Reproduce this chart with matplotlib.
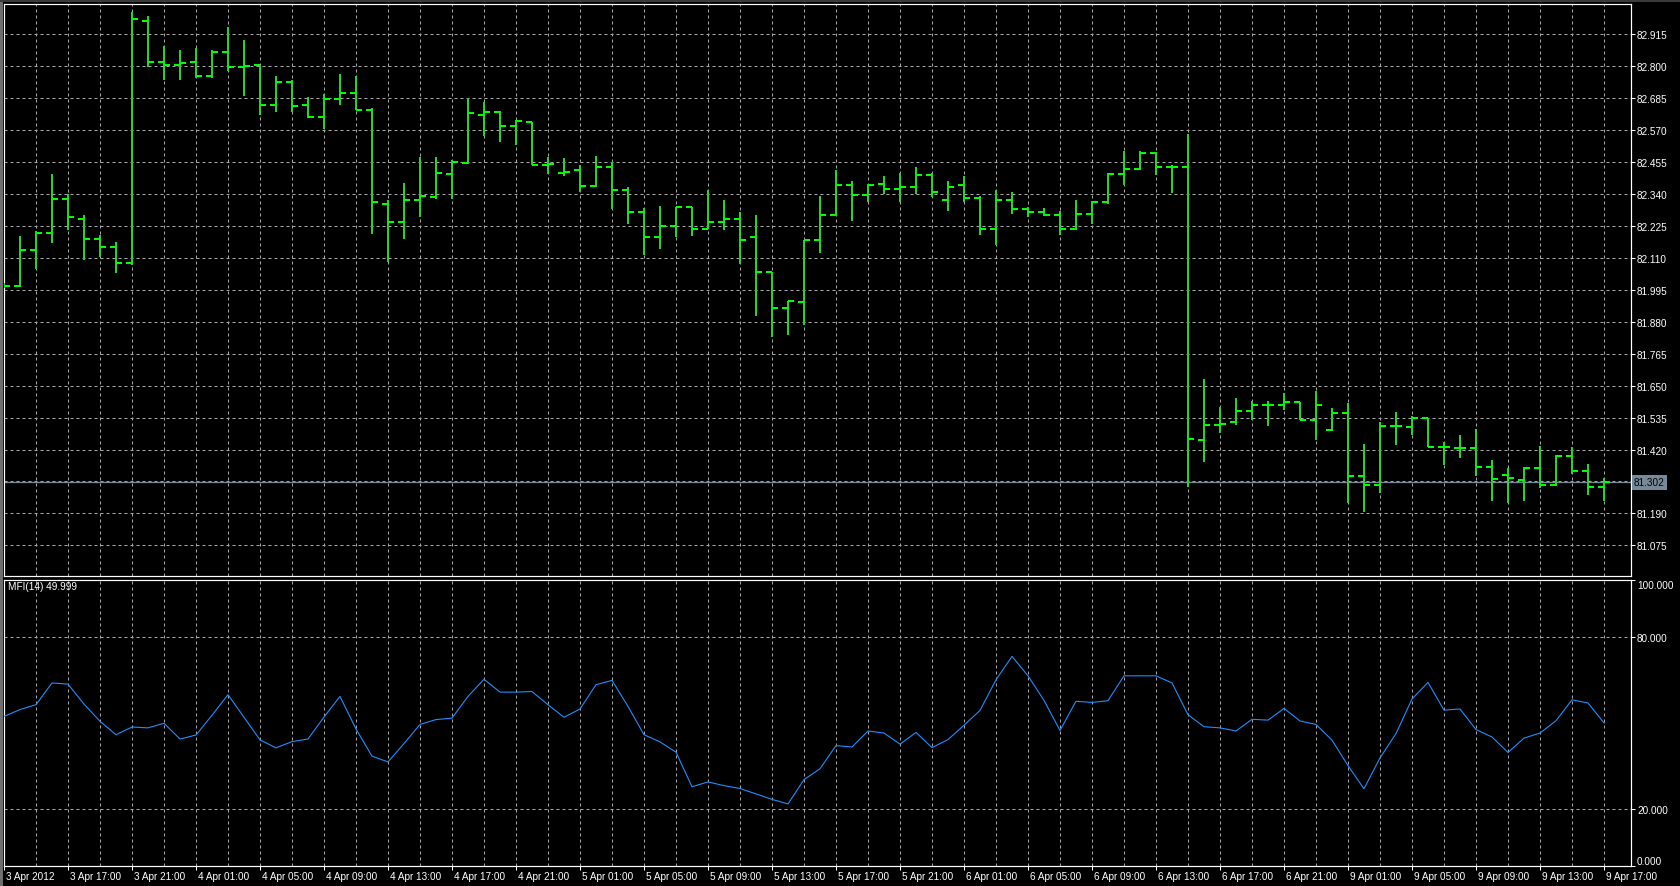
import matplotlib
matplotlib.use('Agg')
import matplotlib.pyplot as plt
import numpy as np
from matplotlib.collections import LineCollection
from matplotlib.patches import Rectangle
import matplotlib.transforms as mtransforms

W, H, DPI = 1680, 887, 100
PX = 72.0 / DPI  # points per pixel

# ---------------- data ----------------
opens = [82.010, 82.010, 82.137, 82.201, 82.323, 82.251, 82.179, 82.151, 82.093, 82.965,
         82.815, 82.804, 82.815, 82.767, 82.853, 82.799, 82.804, 82.662, 82.745, 82.660,
         82.619, 82.683, 82.703, 82.644, 82.305, 82.241, 82.317, 82.330, 82.413, 82.453,
         82.626, 82.635, 82.584, 82.598, 82.445, 82.417, 82.425, 82.368, 82.439, 82.353,
         82.274, 82.184, 82.224, 82.292, 82.215, 82.241, 82.251, 82.187, 82.058, 81.928,
         81.953, 82.173, 82.263, 82.371, 82.335, 82.375, 82.359, 82.367, 82.409, 82.317,
         82.371, 82.327, 82.215, 82.317, 82.287, 82.274, 82.265, 82.215, 82.269, 82.313,
         82.411, 82.431, 82.487, 82.436, 82.436, 81.455, 81.510, 81.520, 81.560, 81.581,
         81.581, 81.590, 81.528, 81.491, 81.551, 81.326, 81.294, 81.504, 81.501, 81.532,
         81.429, 81.426, 81.425, 81.356, 81.330, 81.311, 81.352, 81.291, 81.397, 81.343,
         81.286]
highs = [82.021, 82.188, 82.207, 82.413, 82.342, 82.265, 82.194, 82.169, 82.996, 82.982,
         82.873, 82.860, 82.867, 82.860, 82.941, 82.896, 82.804, 82.766, 82.750, 82.690,
         82.699, 82.774, 82.767, 82.649, 82.317, 82.381, 82.474, 82.474, 82.461, 82.686,
         82.671, 82.638, 82.606, 82.598, 82.475, 82.470, 82.443, 82.478, 82.457, 82.367,
         82.291, 82.297, 82.294, 82.292, 82.355, 82.319, 82.274, 82.265, 82.058, 81.956,
         82.175, 82.333, 82.426, 82.387, 82.375, 82.404, 82.417, 82.439, 82.417, 82.387,
         82.404, 82.332, 82.355, 82.349, 82.294, 82.291, 82.278, 82.319, 82.315, 82.416,
         82.494, 82.494, 82.490, 82.445, 82.557, 81.673, 81.574, 81.605, 81.594, 81.594,
         81.624, 81.590, 81.631, 81.569, 81.587, 81.439, 81.519, 81.555, 81.541, 81.532,
         81.448, 81.471, 81.493, 81.381, 81.352, 81.356, 81.432, 81.401, 81.429, 81.367,
         81.317]
lows = [82.001, 82.004, 82.072, 82.165, 82.211, 82.104, 82.112, 82.057, 82.085, 82.797,
        82.752, 82.752, 82.757, 82.757, 82.783, 82.692, 82.623, 82.635, 82.637, 82.613,
        82.574, 82.662, 82.641, 82.198, 82.094, 82.178, 82.256, 82.321, 82.321, 82.448,
        82.548, 82.526, 82.515, 82.445, 82.411, 82.404, 82.349, 82.364, 82.285, 82.231,
        82.120, 82.143, 82.187, 82.188, 82.214, 82.211, 82.090, 81.902, 81.824, 81.834,
        81.870, 82.128, 82.261, 82.242, 82.313, 82.342, 82.310, 82.342, 82.328, 82.278,
        82.310, 82.192, 82.158, 82.270, 82.256, 82.261, 82.191, 82.210, 82.233, 82.303,
        82.371, 82.426, 82.407, 82.345, 81.285, 81.374, 81.480, 81.510, 81.525, 81.506,
        81.564, 81.525, 81.455, 81.487, 81.226, 81.195, 81.262, 81.438, 81.471, 81.429,
        81.365, 81.390, 81.326, 81.233, 81.227, 81.236, 81.281, 81.287, 81.332, 81.255,
        81.236]
closes = [82.010, 82.137, 82.201, 82.321, 82.256, 82.179, 82.151, 82.093, 82.969, 82.815,
          82.804, 82.811, 82.767, 82.851, 82.799, 82.803, 82.662, 82.745, 82.656, 82.619,
          82.681, 82.703, 82.644, 82.310, 82.241, 82.317, 82.332, 82.417, 82.454, 82.631,
          82.635, 82.584, 82.602, 82.445, 82.449, 82.421, 82.368, 82.439, 82.353, 82.274,
          82.187, 82.224, 82.292, 82.215, 82.241, 82.251, 82.173, 82.058, 81.928, 81.956,
          82.173, 82.263, 82.371, 82.335, 82.372, 82.359, 82.367, 82.409, 82.349, 82.367,
          82.327, 82.215, 82.317, 82.287, 82.274, 82.265, 82.215, 82.269, 82.313, 82.411,
          82.431, 82.487, 82.436, 82.436, 81.459, 81.510, 81.513, 81.560, 81.581, 81.581,
          81.590, 81.528, 81.581, 81.551, 81.326, 81.294, 81.504, 81.504, 81.532, 81.429,
          81.429, 81.425, 81.356, 81.313, 81.317, 81.352, 81.291, 81.397, 81.343, 81.286,
          81.302]
mfi = [52.3, 54.7, 56.4, 64.0, 63.6, 56.6, 50.6, 45.9, 48.6, 48.3,
       49.9, 44.4, 45.8, 52.7, 59.9, 52.0, 44.1, 41.3, 43.5, 44.4,
       52.1, 59.3, 47.9, 38.4, 36.4, 42.8, 49.5, 51.2, 51.7, 59.3,
       65.3, 60.8, 60.8, 61.0, 56.4, 52.0, 54.9, 63.4, 64.9, 55.8,
       45.9, 43.4, 39.8, 27.7, 29.4, 28.1, 27.1, 25.2, 23.3, 21.7,
       30.2, 34.0, 42.1, 41.6, 47.2, 46.5, 42.6, 46.7, 41.4, 44.2,
       49.2, 54.4, 65.1, 73.3, 66.5, 57.9, 47.4, 57.6, 57.2, 57.8,
       66.5, 66.5, 66.5, 64.0, 52.9, 48.7, 48.3, 47.2, 51.3, 51.0,
       55.1, 50.7, 49.5, 44.0, 35.1, 27.0, 37.8, 46.3, 58.4, 64.2,
       54.5, 54.9, 47.7, 45.1, 39.7, 44.7, 46.5, 50.8, 58.1, 57.0,
       50.0]
time_labels = ['3 Apr 2012', '3 Apr 17:00', '3 Apr 21:00', '4 Apr 01:00', '4 Apr 05:00',
               '4 Apr 09:00', '4 Apr 13:00', '4 Apr 17:00', '4 Apr 21:00', '5 Apr 01:00',
               '5 Apr 05:00', '5 Apr 09:00', '5 Apr 13:00', '5 Apr 17:00', '5 Apr 21:00',
               '6 Apr 01:00', '6 Apr 05:00', '6 Apr 09:00', '6 Apr 13:00', '6 Apr 17:00',
               '6 Apr 21:00', '9 Apr 01:00', '9 Apr 05:00', '9 Apr 09:00', '9 Apr 13:00',
               '9 Apr 17:00']
price_ticks = [82.915, 82.800, 82.685, 82.570, 82.455, 82.340, 82.225, 82.110, 81.995,
               81.880, 81.765, 81.650, 81.535, 81.420, 81.305, 81.190, 81.075]
price_labels = ['82.915', '82.800', '82.685', '82.570', '82.455', '82.340', '82.225', '82.110',
                '81.995', '81.880', '81.765', '81.650', '81.535', '81.420', '', '81.190', '81.075']
mfi_ticks = [0, 20, 80, 100]
mfi_labels = ['0.000', '20.000', '80.000', '100.000']
mfi_grid = [20, 80]
current_price = 81.302
current_label = '81.302'
mfi_title = 'MFI(14) 49.999'

# ---------------- style ----------------
plt.rcParams['font.family'] = ['Liberation Sans', 'DejaVu Sans']
plt.rcParams['lines.scale_dashes'] = False
FS = 7.2
GRID_COLOR = '#a8a8a8'
DASH = (0, (3 * PX, 3 * PX))
BAR_V = '#32cd32'
BAR_T = '#00ff00'

fig = plt.figure(figsize=(W / DPI, H / DPI), dpi=DPI, facecolor='black')


def rect(l, t, r, b):
    return [l / W, 1 - b / H, (r - l) / W, (b - t) / H]


ax = fig.add_axes(rect(4, 5, 1631, 577))
ax2 = fig.add_axes(rect(4, 581, 1631, 867))

# window borders
fig.patches.append(Rectangle((0, 0), 3 / W, 1, transform=fig.transFigure,
                             facecolor='#6e6e6e', edgecolor='none', zorder=0))
fig.patches.append(Rectangle((0, 1 - 3 / H), 1, 3 / H, transform=fig.transFigure,
                             facecolor='#3a3a3a', edgecolor='none', zorder=0))

n = len(opens)
xs = np.arange(n)
xlim = (0, (1631 - 4) / 16.0)
grid_x = np.arange(2, n, 2)

for a in (ax, ax2):
    a.set_facecolor('black')
    a.set_xlim(*xlim)
    for s in a.spines.values():
        s.set_color('white')
        s.set_linewidth(1.0 * PX * 1.2)
    a.yaxis.tick_right()
    a.tick_params(axis='y', colors='white', labelcolor='white', labelsize=FS,
                  direction='out', length=4 * PX, width=1 * PX, pad=1.5)

# ---- main price panel ----
ax.set_ylim(80.9647, 83.0245)
ax.hlines(price_ticks, xlim[0], xlim[1], colors=GRID_COLOR, linestyles=[DASH], linewidth=1 * PX, zorder=1)
ax.vlines(grid_x, 80.9647, 83.0245, colors=GRID_COLOR, linestyles=[DASH], linewidth=1 * PX, zorder=1)
ax.set_yticks(price_ticks, price_labels)
ax.set_xticks([])

ax.axhline(current_price, color='#778899', linewidth=1.3 * PX, zorder=2)

tick_len = 0.36
vert = [[(x, l), (x, h)] for x, l, h in zip(xs, lows, highs)]
oseg = [[(x - tick_len, o), (x, o)] for x, o in zip(xs, opens)]
cseg = [[(x, c), (x + tick_len, c)] for x, c in zip(xs, closes)]
ax.add_collection(LineCollection(vert, colors=BAR_V, linewidths=2 * PX, capstyle='butt', zorder=3))
ax.add_collection(LineCollection(oseg + cseg, colors=BAR_T, linewidths=2 * PX, capstyle='butt', zorder=3))

ax.text(1.0 + 3 / 1627, current_price, current_label, transform=ax.get_yaxis_transform(),
        ha='left', va='center', fontsize=FS, color='black', clip_on=False,
        bbox=dict(boxstyle='square,pad=0.25', facecolor='#778899', edgecolor='none'))

# ---- MFI panel ----
ax2.set_ylim(0, 100)
ax2.hlines(mfi_grid, xlim[0], xlim[1], colors=GRID_COLOR, linestyles=[DASH], linewidth=1 * PX, zorder=1)
ax2.vlines(grid_x, 0, 100, colors=GRID_COLOR, linestyles=[DASH], linewidth=1 * PX, zorder=1)
ax2.plot(xs, mfi, color='#1e90ff', linewidth=1.1 * PX, zorder=3)
ax2.set_yticks(mfi_ticks, mfi_labels)
for lbl, v in zip(ax2.get_yticklabels(), mfi_ticks):
    if v == 100:
        lbl.set_va('top')
    elif v == 0:
        lbl.set_va('bottom')

ax2.set_xticks(np.arange(0, n, 4), time_labels)
ax2.tick_params(axis='x', colors='white', labelcolor='white', labelsize=FS,
                direction='out', length=4 * PX, width=1 * PX, pad=0.5)
offset = mtransforms.ScaledTranslation(2 / DPI, 0, fig.dpi_scale_trans)
for lbl in ax2.get_xticklabels():
    lbl.set_ha('left')
    lbl.set_transform(lbl.get_transform() + offset)

ax2.text((7.5 - 4) / 1627, 1 - 6.5 / 286, mfi_title, transform=ax2.transAxes,
         ha='left', va='center', fontsize=FS, color='white')

fig.savefig('out.png', dpi=DPI, facecolor='black')
